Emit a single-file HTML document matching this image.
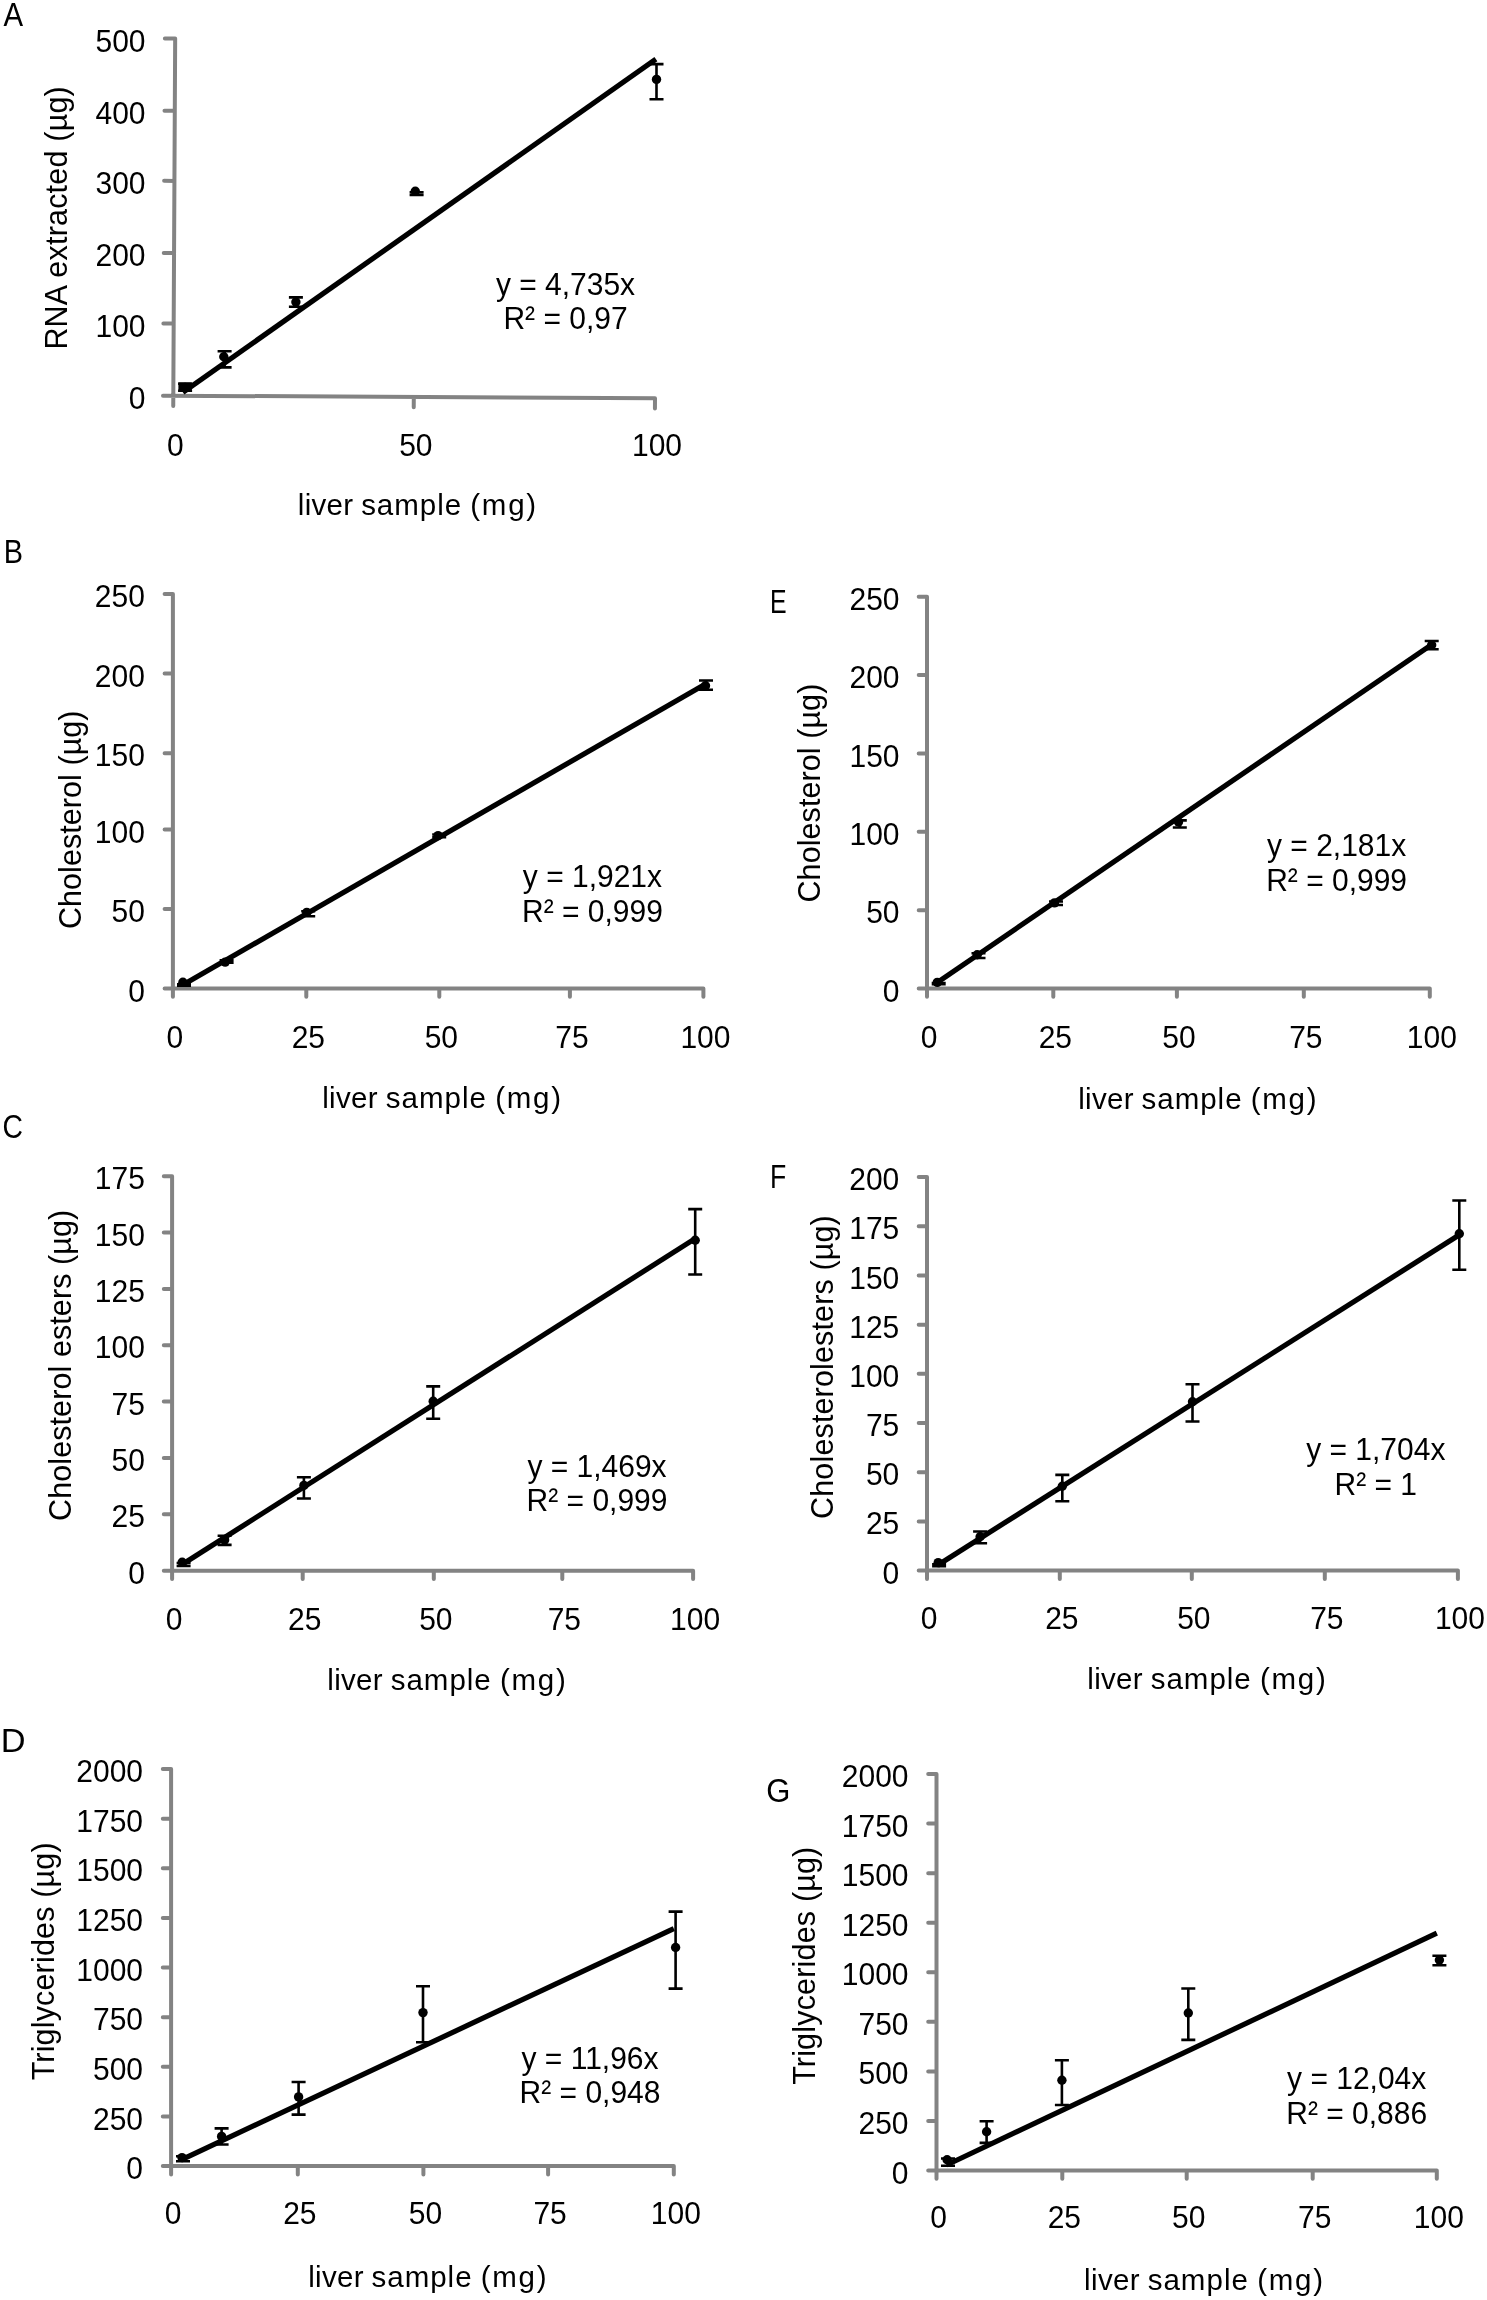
<!DOCTYPE html>
<html><head><meta charset="utf-8"><style>html,body{margin:0;padding:0;background:#fff}svg{display:block;will-change:transform}</style></head>
<body><svg xmlns="http://www.w3.org/2000/svg" width="1487" height="2300" viewBox="0 0 1487 2300" font-family="'Liberation Sans', sans-serif" fill="#000">
<g transform="rotate(0.3 173.3 395.7)">
<g stroke="#838383" stroke-width="4.0" stroke-linecap="round" fill="none">
<path d="M173.3 38.5V406.0 M163.0 395.7H655 M163.0 323.5H173.3 M163.0 253.0H173.3 M163.0 180.9H173.3 M163.0 110.8H173.3 M163.0 38.5H173.3 M413.8 395.7V406.0 M655.0 395.7V406.0"/>
</g>
</g>
<g font-size="30" text-anchor="end">
<text transform="translate(145.5 408.7) scale(1 1.07)">0</text>
<text transform="translate(145.5 336.5) scale(1 1.07)">100</text>
<text transform="translate(145.5 266.0) scale(1 1.07)">200</text>
<text transform="translate(145.5 193.9) scale(1 1.07)">300</text>
<text transform="translate(145.5 123.8) scale(1 1.07)">400</text>
<text transform="translate(145.5 51.5) scale(1 1.07)">500</text>
</g>
<g font-size="30" text-anchor="middle">
<text transform="translate(175.3 456.0) scale(1 1.07)">0</text>
<text transform="translate(415.8 456.0) scale(1 1.07)">50</text>
<text transform="translate(657.0 456.0) scale(1 1.07)">100</text>
</g>
<path d="M182.9 392.3L655.9 59.2" stroke="#000" stroke-width="5.2" fill="none"/>
<path d="M185.1 383.7V390.7M178.1 383.7h14M178.1 390.7h14M224.6 351.2V367.4M217.6 351.2h14M217.6 367.4h14M295.9 297.4V306.8M288.9 297.4h14M288.9 306.8h14M416.6 192.3V195.0M409.6 192.3h14M409.6 195.0h14M656.5 64.1V99.2M649.5 64.1h14M649.5 99.2h14" stroke="#000" stroke-width="2.6" fill="none"/>
<circle cx="185.1" cy="387.5" r="4.7"/>
<circle cx="223.8" cy="356.8" r="4.7"/>
<circle cx="295.9" cy="302" r="4.7"/>
<circle cx="415.3" cy="191.2" r="4.7"/>
<circle cx="656.5" cy="79.4" r="4.7"/>
<rect x="178.4" y="382.4" width="13.4" height="9.2"/>
<g font-size="30" text-anchor="middle"><text transform="translate(565.5 294.5) scale(1 1.07)">y = 4,735x</text><text transform="translate(565.5 329.2) scale(1 1.07)">R² = 0,97</text></g>
<text transform="translate(66.5 349.60) rotate(-90)" font-size="30.5" textLength="263.35" lengthAdjust="spacing">RNA extracted (µg)</text>
<text x="297.80" y="515.0" font-size="29.5" textLength="55.29" lengthAdjust="spacing">liver</text>
<text x="361.15" y="515.0" font-size="29.5" textLength="100.00" lengthAdjust="spacing">sample</text>
<text x="470.35" y="515.0" font-size="29.5" textLength="65.73" lengthAdjust="spacing">(mg)</text>
<text transform="translate(3.40 26.4) scale(0.891 1)" font-size="33">A</text>
<g stroke="#838383" stroke-width="4.0" stroke-linecap="round" fill="none">
<path d="M172.9 594.1V996.8 M164.6 988.5H703.4 M164.6 909.0H172.9 M164.6 829.6H172.9 M164.6 753.2H172.9 M164.6 673.6H172.9 M164.6 594.1H172.9 M306.3 988.5V996.8 M439.3 988.5V996.8 M569.9 988.5V996.8 M703.4 988.5V996.8"/>
</g>
<g font-size="30" text-anchor="end">
<text transform="translate(144.9 1001.5) scale(1 1.07)">0</text>
<text transform="translate(144.9 922.0) scale(1 1.07)">50</text>
<text transform="translate(144.9 842.6) scale(1 1.07)">100</text>
<text transform="translate(144.9 766.2) scale(1 1.07)">150</text>
<text transform="translate(144.9 686.6) scale(1 1.07)">200</text>
<text transform="translate(144.9 607.1) scale(1 1.07)">250</text>
</g>
<g font-size="30" text-anchor="middle">
<text transform="translate(174.9 1048.3) scale(1 1.07)">0</text>
<text transform="translate(308.3 1048.3) scale(1 1.07)">25</text>
<text transform="translate(441.3 1048.3) scale(1 1.07)">50</text>
<text transform="translate(571.9 1048.3) scale(1 1.07)">75</text>
<text transform="translate(705.4 1048.3) scale(1 1.07)">100</text>
</g>
<path d="M183.1 984.8L703.4 685.2" stroke="#000" stroke-width="5.2" fill="none"/>
<path d="M184 984.3V985.8M177.0 984.3h14M177.0 985.8h14M226.6 960.3V962.6M219.6 960.3h14M219.6 962.6h14M308.2 911.2V916.2M301.2 911.2h14M301.2 916.2h14M439.2 834.5V837.2M432.2 834.5h14M432.2 837.2h14M706 680.5V689.7M699.0 680.5h14M699.0 689.7h14" stroke="#000" stroke-width="2.6" fill="none"/>
<circle cx="182.9" cy="982.2" r="4.7"/>
<circle cx="225.2" cy="962.1" r="4.7"/>
<circle cx="306.8" cy="912.4" r="4.7"/>
<circle cx="438.1" cy="835.6" r="4.7"/>
<circle cx="705.5" cy="685.7" r="4.7"/>
<g font-size="30" text-anchor="middle"><text transform="translate(592.4 886.9) scale(1 1.07)">y = 1,921x</text><text transform="translate(592.4 922.4) scale(1 1.07)">R² = 0,999</text></g>
<text transform="translate(80.8 929.10) rotate(-90)" font-size="30.5" textLength="218.64" lengthAdjust="spacing">Cholesterol (µg)</text>
<text x="322.20" y="1107.6" font-size="29.5" textLength="55.42" lengthAdjust="spacing">liver</text>
<text x="385.71" y="1107.6" font-size="29.5" textLength="100.25" lengthAdjust="spacing">sample</text>
<text x="495.19" y="1107.6" font-size="29.5" textLength="65.89" lengthAdjust="spacing">(mg)</text>
<text transform="translate(3.70 563.3) scale(0.874 1)" font-size="33">B</text>
<g stroke="#838383" stroke-width="4.0" stroke-linecap="round" fill="none">
<path d="M172.1 1176.2V1579.0 M163.79999999999998 1570.7H693.1 M163.79999999999998 1514.3H172.1 M163.79999999999998 1458.0H172.1 M163.79999999999998 1401.6H172.1 M163.79999999999998 1345.3H172.1 M163.79999999999998 1288.9H172.1 M163.79999999999998 1232.6H172.1 M163.79999999999998 1176.2H172.1 M302.7 1570.7V1579.0 M433.8 1570.7V1579.0 M562.3 1570.7V1579.0 M693.1 1570.7V1579.0"/>
</g>
<g font-size="30" text-anchor="end">
<text transform="translate(144.9 1583.7) scale(1 1.07)">0</text>
<text transform="translate(144.9 1527.3) scale(1 1.07)">25</text>
<text transform="translate(144.9 1471.0) scale(1 1.07)">50</text>
<text transform="translate(144.9 1414.6) scale(1 1.07)">75</text>
<text transform="translate(144.9 1358.3) scale(1 1.07)">100</text>
<text transform="translate(144.9 1301.9) scale(1 1.07)">125</text>
<text transform="translate(144.9 1245.6) scale(1 1.07)">150</text>
<text transform="translate(144.9 1189.2) scale(1 1.07)">175</text>
</g>
<g font-size="30" text-anchor="middle">
<text transform="translate(174.1 1629.8) scale(1 1.07)">0</text>
<text transform="translate(304.7 1629.8) scale(1 1.07)">25</text>
<text transform="translate(435.8 1629.8) scale(1 1.07)">50</text>
<text transform="translate(564.3 1629.8) scale(1 1.07)">75</text>
<text transform="translate(695.1 1629.8) scale(1 1.07)">100</text>
</g>
<path d="M182.5 1564.2L693.1 1239.9" stroke="#000" stroke-width="5.2" fill="none"/>
<path d="M183.6 1563.0V1566.0M176.6 1563.0h14M176.6 1566.0h14M224.6 1535.8V1544.9M217.6 1535.8h14M217.6 1544.9h14M303.9 1477.3V1498.5M296.9 1477.3h14M296.9 1498.5h14M433.2 1386.4V1418.8M426.2 1386.4h14M426.2 1418.8h14M695.2 1209.1V1274.5M688.2 1209.1h14M688.2 1274.5h14" stroke="#000" stroke-width="2.6" fill="none"/>
<circle cx="182.2" cy="1562.3" r="4.7"/>
<circle cx="224.6" cy="1539.9" r="4.7"/>
<circle cx="303.9" cy="1485.4" r="4.7"/>
<circle cx="433.2" cy="1401.2" r="4.7"/>
<circle cx="695.2" cy="1240.3" r="4.7"/>
<g font-size="30" text-anchor="middle"><text transform="translate(597 1476.7) scale(1 1.07)">y = 1,469x</text><text transform="translate(597 1511) scale(1 1.07)">R² = 0,999</text></g>
<text transform="translate(71 1520.90) rotate(-90)" font-size="30.5" textLength="311.06" lengthAdjust="spacing">Cholesterol esters (µg)</text>
<text x="327.30" y="1690.3" font-size="29.5" textLength="55.33" lengthAdjust="spacing">liver</text>
<text x="390.70" y="1690.3" font-size="29.5" textLength="100.08" lengthAdjust="spacing">sample</text>
<text x="500.00" y="1690.3" font-size="29.5" textLength="65.78" lengthAdjust="spacing">(mg)</text>
<text transform="translate(2.50 1138.2) scale(0.858 1)" font-size="33">C</text>
<g stroke="#838383" stroke-width="4.0" stroke-linecap="round" fill="none">
<path d="M171.1 1769.1V2174.4 M162.79999999999998 2166.1H673.8 M162.79999999999998 2116.5H171.1 M162.79999999999998 2066.8H171.1 M162.79999999999998 2017.2H171.1 M162.79999999999998 1967.6H171.1 M162.79999999999998 1918.0H171.1 M162.79999999999998 1868.3H171.1 M162.79999999999998 1818.7H171.1 M162.79999999999998 1769.1H171.1 M297.8 2166.1V2174.4 M423.4 2166.1V2174.4 M548.1 2166.1V2174.4 M673.8 2166.1V2174.4"/>
</g>
<g font-size="30" text-anchor="end">
<text transform="translate(143.0 2179.1) scale(1 1.07)">0</text>
<text transform="translate(143.0 2129.5) scale(1 1.07)">250</text>
<text transform="translate(143.0 2079.8) scale(1 1.07)">500</text>
<text transform="translate(143.0 2030.2) scale(1 1.07)">750</text>
<text transform="translate(143.0 1980.6) scale(1 1.07)">1000</text>
<text transform="translate(143.0 1931.0) scale(1 1.07)">1250</text>
<text transform="translate(143.0 1881.3) scale(1 1.07)">1500</text>
<text transform="translate(143.0 1831.7) scale(1 1.07)">1750</text>
<text transform="translate(143.0 1782.1) scale(1 1.07)">2000</text>
</g>
<g font-size="30" text-anchor="middle">
<text transform="translate(173.1 2223.8) scale(1 1.07)">0</text>
<text transform="translate(299.8 2223.8) scale(1 1.07)">25</text>
<text transform="translate(425.4 2223.8) scale(1 1.07)">50</text>
<text transform="translate(550.1 2223.8) scale(1 1.07)">75</text>
<text transform="translate(675.8 2223.8) scale(1 1.07)">100</text>
</g>
<path d="M181.2 2159.8L673.8 1928.6" stroke="#000" stroke-width="5.2" fill="none"/>
<path d="M183 2156.3V2161.2M176.0 2156.3h14M176.0 2161.2h14M221.6 2128.4V2144.5M214.6 2128.4h14M214.6 2144.5h14M298.6 2082V2114.6M291.6 2082h14M291.6 2114.6h14M423 1986.3V2042.3M416.0 1986.3h14M416.0 2042.3h14M675.6 1911.6V1988.6M668.6 1911.6h14M668.6 1988.6h14" stroke="#000" stroke-width="2.6" fill="none"/>
<circle cx="182" cy="2157.6" r="4.7"/>
<circle cx="221.6" cy="2136.4" r="4.7"/>
<circle cx="298.6" cy="2096.9" r="4.7"/>
<circle cx="423" cy="2012.6" r="4.7"/>
<circle cx="675.6" cy="1947.5" r="4.7"/>
<g font-size="30" text-anchor="middle"><text transform="translate(590 2068.6) scale(1 1.07)">y = 11,96x</text><text transform="translate(590 2102.9) scale(1 1.07)">R² = 0,948</text></g>
<text transform="translate(53.9 2080.35) rotate(-90)" font-size="30.5" textLength="237.95" lengthAdjust="spacing">Triglycerides (µg)</text>
<text x="308.20" y="2287.3" font-size="29.5" textLength="55.29" lengthAdjust="spacing">liver</text>
<text x="371.55" y="2287.3" font-size="29.5" textLength="100.00" lengthAdjust="spacing">sample</text>
<text x="480.75" y="2287.3" font-size="29.5" textLength="65.73" lengthAdjust="spacing">(mg)</text>
<text transform="translate(0.74 1751.6) scale(1.041 1)" font-size="33">D</text>
<g stroke="#838383" stroke-width="4.0" stroke-linecap="round" fill="none">
<path d="M927 596.8V996.8 M918.7 988.5H1429.8 M918.7 910.2H927 M918.7 831.8H927 M918.7 753.5H927 M918.7 675.1H927 M918.7 596.8H927 M1053.3 988.5V996.8 M1176.9 988.5V996.8 M1303.8 988.5V996.8 M1429.8 988.5V996.8"/>
</g>
<g font-size="30" text-anchor="end">
<text transform="translate(899.5 1001.5) scale(1 1.07)">0</text>
<text transform="translate(899.5 923.2) scale(1 1.07)">50</text>
<text transform="translate(899.5 844.8) scale(1 1.07)">100</text>
<text transform="translate(899.5 766.5) scale(1 1.07)">150</text>
<text transform="translate(899.5 688.1) scale(1 1.07)">200</text>
<text transform="translate(899.5 609.8) scale(1 1.07)">250</text>
</g>
<g font-size="30" text-anchor="middle">
<text transform="translate(929.0 1048.2) scale(1 1.07)">0</text>
<text transform="translate(1055.3 1048.2) scale(1 1.07)">25</text>
<text transform="translate(1178.9 1048.2) scale(1 1.07)">50</text>
<text transform="translate(1305.8 1048.2) scale(1 1.07)">75</text>
<text transform="translate(1431.8 1048.2) scale(1 1.07)">100</text>
</g>
<path d="M937.1 982.6L1429.8 645.9" stroke="#000" stroke-width="5.2" fill="none"/>
<path d="M938.7 983.0V984.2M931.7 983.0h14M931.7 984.2h14M978.5 953.3V958.0M971.5 953.3h14M971.5 958.0h14M1056 901.5V905.0M1049.0 901.5h14M1049.0 905.0h14M1179.8 820.4V827.5M1172.8 820.4h14M1172.8 827.5h14M1431.7 641V649.2M1424.7 641h14M1424.7 649.2h14" stroke="#000" stroke-width="2.6" fill="none"/>
<circle cx="937.3" cy="982.4" r="4.7"/>
<circle cx="977.2" cy="954.8" r="4.7"/>
<circle cx="1054.5" cy="902.9" r="4.7"/>
<circle cx="1178.5" cy="822" r="4.7"/>
<circle cx="1431.7" cy="645" r="4.7"/>
<g font-size="30" text-anchor="middle"><text transform="translate(1336.6 856.2) scale(1 1.07)">y = 2,181x</text><text transform="translate(1336.6 890.7) scale(1 1.07)">R² = 0,999</text></g>
<text transform="translate(820 902.50) rotate(-90)" font-size="30.5" textLength="218.84" lengthAdjust="spacing">Cholesterol (µg)</text>
<text x="1078.20" y="1108.7" font-size="29.5" textLength="55.29" lengthAdjust="spacing">liver</text>
<text x="1141.55" y="1108.7" font-size="29.5" textLength="100.00" lengthAdjust="spacing">sample</text>
<text x="1250.75" y="1108.7" font-size="29.5" textLength="65.73" lengthAdjust="spacing">(mg)</text>
<text transform="translate(770.02 613.3) scale(0.755 1)" font-size="33">E</text>
<g stroke="#838383" stroke-width="4.0" stroke-linecap="round" fill="none">
<path d="M927 1177.1V1578.8999999999999 M918.7 1570.6H1457.9 M918.7 1521.4H927 M918.7 1472.2H927 M918.7 1423.0H927 M918.7 1373.8H927 M918.7 1324.7H927 M918.7 1275.5H927 M918.7 1226.3H927 M918.7 1177.1H927 M1059.8 1570.6V1578.8999999999999 M1191.8 1570.6V1578.8999999999999 M1324.8 1570.6V1578.8999999999999 M1457.9 1570.6V1578.8999999999999"/>
</g>
<g font-size="30" text-anchor="end">
<text transform="translate(899.3 1583.6) scale(1 1.07)">0</text>
<text transform="translate(899.3 1534.4) scale(1 1.07)">25</text>
<text transform="translate(899.3 1485.2) scale(1 1.07)">50</text>
<text transform="translate(899.3 1436.0) scale(1 1.07)">75</text>
<text transform="translate(899.3 1386.8) scale(1 1.07)">100</text>
<text transform="translate(899.3 1337.7) scale(1 1.07)">125</text>
<text transform="translate(899.3 1288.5) scale(1 1.07)">150</text>
<text transform="translate(899.3 1239.3) scale(1 1.07)">175</text>
<text transform="translate(899.3 1190.1) scale(1 1.07)">200</text>
</g>
<g font-size="30" text-anchor="middle">
<text transform="translate(929.0 1629.3) scale(1 1.07)">0</text>
<text transform="translate(1061.8 1629.3) scale(1 1.07)">25</text>
<text transform="translate(1193.8 1629.3) scale(1 1.07)">50</text>
<text transform="translate(1326.8 1629.3) scale(1 1.07)">75</text>
<text transform="translate(1459.9 1629.3) scale(1 1.07)">100</text>
</g>
<path d="M937.6 1565.2L1457.9 1235.8" stroke="#000" stroke-width="5.2" fill="none"/>
<path d="M939.1 1564.3V1566.2M932.1 1564.3h14M932.1 1566.2h14M980.1 1531.5V1543.3M973.1 1531.5h14M973.1 1543.3h14M1062.3 1474.9V1501.3M1055.3 1474.9h14M1055.3 1501.3h14M1192.5 1384.2V1421.5M1185.5 1384.2h14M1185.5 1421.5h14M1459.3 1200.5V1269.8M1452.3 1200.5h14M1452.3 1269.8h14" stroke="#000" stroke-width="2.6" fill="none"/>
<circle cx="938.2" cy="1562.6" r="4.7"/>
<circle cx="980.1" cy="1536.8" r="4.7"/>
<circle cx="1062.3" cy="1486.3" r="4.7"/>
<circle cx="1192.5" cy="1401.7" r="4.7"/>
<circle cx="1459.3" cy="1233.7" r="4.7"/>
<g font-size="30" text-anchor="middle"><text transform="translate(1375.8 1460) scale(1 1.07)">y = 1,704x</text><text transform="translate(1375.8 1495) scale(1 1.07)">R² = 1</text></g>
<text transform="translate(833 1518.90) rotate(-90)" font-size="30.5" textLength="303.69" lengthAdjust="spacing">Cholesterolesters (µg)</text>
<text x="1087.30" y="1688.7" font-size="29.5" textLength="55.33" lengthAdjust="spacing">liver</text>
<text x="1150.70" y="1688.7" font-size="29.5" textLength="100.08" lengthAdjust="spacing">sample</text>
<text x="1260.00" y="1688.7" font-size="29.5" textLength="65.78" lengthAdjust="spacing">(mg)</text>
<text transform="translate(769.88 1188.4) scale(0.806 1)" font-size="33">F</text>
<g stroke="#838383" stroke-width="4.0" stroke-linecap="round" fill="none">
<path d="M936.5 1774.1V2178.8 M928.2 2170.5H1436.8 M928.2 2120.9H936.5 M928.2 2071.4H936.5 M928.2 2021.8H936.5 M928.2 1972.3H936.5 M928.2 1922.8H936.5 M928.2 1873.2H936.5 M928.2 1823.6H936.5 M928.2 1774.1H936.5 M1062.3 2170.5V2178.8 M1186.7 2170.5V2178.8 M1312.7 2170.5V2178.8 M1436.8 2170.5V2178.8"/>
</g>
<g font-size="30" text-anchor="end">
<text transform="translate(908.5 2183.5) scale(1 1.07)">0</text>
<text transform="translate(908.5 2133.9) scale(1 1.07)">250</text>
<text transform="translate(908.5 2084.4) scale(1 1.07)">500</text>
<text transform="translate(908.5 2034.8) scale(1 1.07)">750</text>
<text transform="translate(908.5 1985.3) scale(1 1.07)">1000</text>
<text transform="translate(908.5 1935.8) scale(1 1.07)">1250</text>
<text transform="translate(908.5 1886.2) scale(1 1.07)">1500</text>
<text transform="translate(908.5 1836.6) scale(1 1.07)">1750</text>
<text transform="translate(908.5 1787.1) scale(1 1.07)">2000</text>
</g>
<g font-size="30" text-anchor="middle">
<text transform="translate(938.5 2228.0) scale(1 1.07)">0</text>
<text transform="translate(1064.3 2228.0) scale(1 1.07)">25</text>
<text transform="translate(1188.7 2228.0) scale(1 1.07)">50</text>
<text transform="translate(1314.7 2228.0) scale(1 1.07)">75</text>
<text transform="translate(1438.8 2228.0) scale(1 1.07)">100</text>
</g>
<path d="M946.6 2165.0L1436.8 1933.2" stroke="#000" stroke-width="5.2" fill="none"/>
<path d="M948 2158.5V2165.8M941.0 2158.5h14M941.0 2165.8h14M986.6 2121.3V2142.9M979.6 2121.3h14M979.6 2142.9h14M1061.9 2060.2V2105M1054.9 2060.2h14M1054.9 2105h14M1188.3 1988.5V2039.9M1181.3 1988.5h14M1181.3 2039.9h14M1439.4 1955.8V1965.2M1432.4 1955.8h14M1432.4 1965.2h14" stroke="#000" stroke-width="2.6" fill="none"/>
<circle cx="947.1" cy="2159.7" r="4.7"/>
<circle cx="986.6" cy="2131.8" r="4.7"/>
<circle cx="1061.9" cy="2080.3" r="4.7"/>
<circle cx="1188.3" cy="2013" r="4.7"/>
<circle cx="1439.4" cy="1960" r="4.7"/>
<g font-size="30" text-anchor="middle"><text transform="translate(1356.7 2088.9) scale(1 1.07)">y = 12,04x</text><text transform="translate(1356.7 2123.9) scale(1 1.07)">R² = 0,886</text></g>
<text transform="translate(814.6 2084.85) rotate(-90)" font-size="30.5" textLength="238.15" lengthAdjust="spacing">Triglycerides (µg)</text>
<text x="1084.10" y="2290" font-size="29.5" textLength="55.45" lengthAdjust="spacing">liver</text>
<text x="1147.64" y="2290" font-size="29.5" textLength="100.29" lengthAdjust="spacing">sample</text>
<text x="1257.16" y="2290" font-size="29.5" textLength="65.91" lengthAdjust="spacing">(mg)</text>
<text transform="translate(766.36 1801.5) scale(0.940 1)" font-size="33">G</text>
</svg></body></html>
